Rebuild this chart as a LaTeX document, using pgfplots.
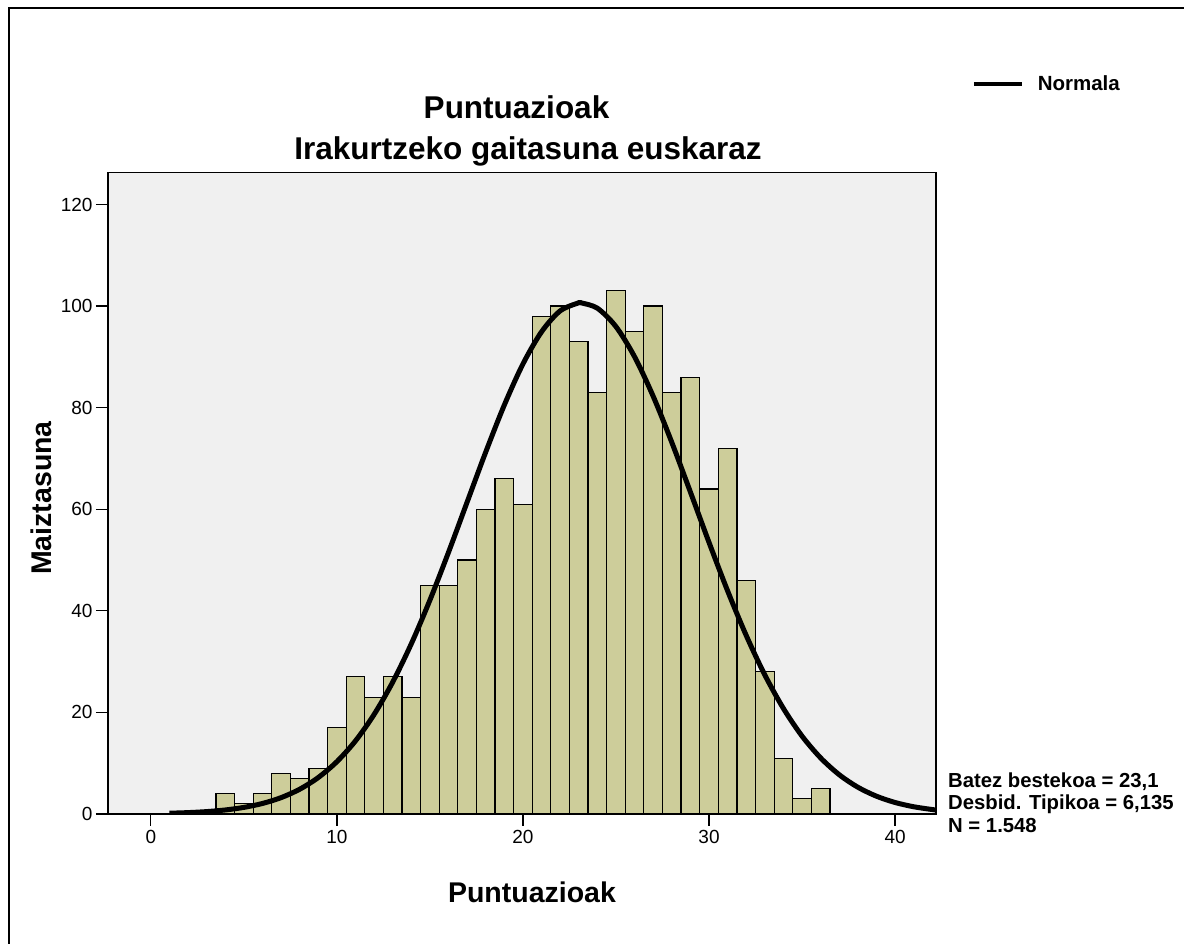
\documentclass[border=0pt]{standalone}
\usepackage{pgfplots}
\pgfplotsset{compat=1.18}
\usepackage{fontspec}
\setmainfont{Liberation Sans}
\definecolor{barfill}{RGB}{205,205,154}
\definecolor{plotbg}{RGB}{240,240,240}
\begin{document}
\begin{tikzpicture}[x=1pt,y=1pt]
\useasboundingbox (0,0) rectangle (1184,944);
\draw[line width=2.4pt] (9.2,-10) -- (9.2,936.2) -- (1200,936.2);
\begin{axis}[
  at={(108pt,130pt)}, anchor=south west,
  scale only axis, width=828pt, height=641.5pt,
  xmin=-2.3, xmax=42.2, ymin=0, ymax=126.3,
  xtick={0,10,20,30,40}, ytick={0,20,40,60,80,100,120},
  xtick pos=lower, ytick pos=left,
  tick align=outside, major tick length=12pt,
  tick style={line width=1.3pt, black},
  axis line style={line width=1.6pt},
  axis background/.style={fill=plotbg},
  /pgf/number format/assume math mode=true,
  ticklabel style={font=\fontsize{19}{19}\selectfont},
  xticklabel style={yshift=-1pt},
  legend style={at={(1.043,1.138)}, anchor=west, draw=none, fill=none, inner sep=0pt,
    font=\fontsize{20.5}{20.5}\selectfont\bfseries,
    /tikz/every odd column/.append style={column sep=12pt}},
  legend cell align=left,
  legend image code/.code={\draw[line width=4pt,black] (0pt,0pt) -- (48pt,0pt);},
]
\addplot[ybar, bar width=1, bar shift=0pt, fill=barfill, draw=black, line width=1.2pt, forget plot]
coordinates {
(4,4) (5,2) (6,4) (7,8) (8,7) (9,9) (10,17) (11,27) (12,23) (13,27) (14,23)
(15,45) (16,45) (17,50) (18,60) (19,66) (20,61) (21,98) (22,100) (23,93) (24,83)
(25,103) (26,95) (27,100) (28,83) (29,86) (30,64) (31,72) (32,46) (33,28) (34,11)
(35,3) (36,5)
};
\addplot[black, line width=5pt, smooth, line join=round]
coordinates {
(1,0.153) (2,0.272) (3,0.470) (4,0.791) (5,1.297) (6,2.070) (7,3.217) (8,4.869)
(9,7.177) (10,10.30) (11,14.39) (12,19.59) (13,25.96) (14,33.50) (15,42.10)
(16,51.52) (17,61.40) (18,71.25) (19,80.52) (20,88.60) (21,94.93) (22,99.05)
(23,100.65) (23.1,100.66) (24,99.58) (25,95.95) (26,90.02) (27,82.24) (28,73.17)
(29,63.39) (30,53.48) (31,43.93) (32,35.15) (33,27.38) (34,20.77) (35,15.34)
(36,11.04) (37,7.729) (38,5.271) (39,3.502) (40,2.265) (41,1.427) (42,0.875) (42.3,0.752)
};
\addlegendentry{Normala}
\end{axis}
\node[anchor=base, font=\fontsize{31.5}{36}\selectfont\bfseries] at (516.5,825) {Puntuazioak};
\node[anchor=base, font=\fontsize{31.5}{36}\selectfont\bfseries] at (528,784) {Irakurtzeko gaitasuna euskaraz};
\node[anchor=base, font=\fontsize{28.5}{32}\selectfont\bfseries] at (532,41) {Puntuazioak};
\node[anchor=base, rotate=90, font=\fontsize{28.5}{32}\selectfont\bfseries] at (51,446) {Maiztasuna};
\node[anchor=base west, inner sep=0pt, font=\fontsize{20.3}{22}\selectfont\bfseries] at (948,156) {Batez bestekoa = 23,1};
\node[anchor=base west, inner sep=0pt, font=\fontsize{20.3}{22}\selectfont\bfseries] at (948,134) {Desbid. Tipikoa = 6,135};
\node[anchor=base west, inner sep=0pt, font=\fontsize{20.3}{22}\selectfont\bfseries] at (948,111) {N = 1.548};
\end{tikzpicture}
\end{document}
